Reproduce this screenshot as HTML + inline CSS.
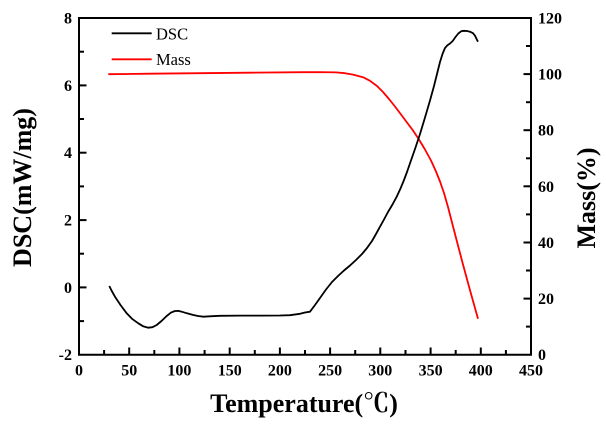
<!DOCTYPE html>
<html>
<head>
<meta charset="utf-8">
<style>
html,body{margin:0;padding:0;background:#fff;}
svg{display:block;}
text{font-family:"Liberation Serif","Noto Serif CJK SC",serif;}
.tl{font-size:16px;font-weight:bold;fill:#000;}
.ti{font-size:26px;font-weight:bold;fill:#000;}
.lg{font-size:16.5px;fill:#000;}
</style>
</head>
<body>
<svg width="606" height="424" viewBox="0 0 606 424" xmlns="http://www.w3.org/2000/svg">
<rect width="606" height="424" fill="#fff"/>
<!-- axes frame -->
<g stroke="#000" stroke-width="2" fill="none">
  <path d="M79,18 L79,354.7 L531,354.7 L531,18 Z"/>
</g>
<!-- x ticks -->
<g stroke="#000" stroke-width="2">
  <line x1="79" y1="354.7" x2="79" y2="347.5"/>
  <line x1="129.2" y1="354.7" x2="129.2" y2="347.5"/>
  <line x1="179.4" y1="354.7" x2="179.4" y2="347.5"/>
  <line x1="229.7" y1="354.7" x2="229.7" y2="347.5"/>
  <line x1="279.9" y1="354.7" x2="279.9" y2="347.5"/>
  <line x1="330.1" y1="354.7" x2="330.1" y2="347.5"/>
  <line x1="380.3" y1="354.7" x2="380.3" y2="347.5"/>
  <line x1="430.6" y1="354.7" x2="430.6" y2="347.5"/>
  <line x1="480.8" y1="354.7" x2="480.8" y2="347.5"/>
  <line x1="104.1" y1="354.7" x2="104.1" y2="350"/>
  <line x1="154.3" y1="354.7" x2="154.3" y2="350"/>
  <line x1="204.6" y1="354.7" x2="204.6" y2="350"/>
  <line x1="254.8" y1="354.7" x2="254.8" y2="350"/>
  <line x1="305" y1="354.7" x2="305" y2="350"/>
  <line x1="355.2" y1="354.7" x2="355.2" y2="350"/>
  <line x1="405.5" y1="354.7" x2="405.5" y2="350"/>
  <line x1="455.7" y1="354.7" x2="455.7" y2="350"/>
  <line x1="505.9" y1="354.7" x2="505.9" y2="350"/>
</g>
<!-- left y ticks -->
<g stroke="#000" stroke-width="2">
  <line x1="79" y1="18" x2="86.5" y2="18"/>
  <line x1="79" y1="85.4" x2="86.5" y2="85.4"/>
  <line x1="79" y1="152.7" x2="86.5" y2="152.7"/>
  <line x1="79" y1="220.1" x2="86.5" y2="220.1"/>
  <line x1="79" y1="287.4" x2="86.5" y2="287.4"/>
  <line x1="79" y1="51.7" x2="84" y2="51.7"/>
  <line x1="79" y1="119" x2="84" y2="119"/>
  <line x1="79" y1="186.4" x2="84" y2="186.4"/>
  <line x1="79" y1="253.7" x2="84" y2="253.7"/>
  <line x1="79" y1="321.1" x2="84" y2="321.1"/>
</g>
<!-- right y ticks -->
<g stroke="#000" stroke-width="2">
  <line x1="531" y1="18" x2="523.5" y2="18"/>
  <line x1="531" y1="74.1" x2="523.5" y2="74.1"/>
  <line x1="531" y1="130.2" x2="523.5" y2="130.2"/>
  <line x1="531" y1="186.3" x2="523.5" y2="186.3"/>
  <line x1="531" y1="242.5" x2="523.5" y2="242.5"/>
  <line x1="531" y1="298.6" x2="523.5" y2="298.6"/>
  <line x1="531" y1="46" x2="526" y2="46"/>
  <line x1="531" y1="102.2" x2="526" y2="102.2"/>
  <line x1="531" y1="158.3" x2="526" y2="158.3"/>
  <line x1="531" y1="214.4" x2="526" y2="214.4"/>
  <line x1="531" y1="270.5" x2="526" y2="270.5"/>
  <line x1="531" y1="326.6" x2="526" y2="326.6"/>
</g>
<!-- x tick labels -->
<g class="tl" text-anchor="middle">
  <text x="79" y="375.5">0</text>
  <text x="129.2" y="375.5">50</text>
  <text x="179.4" y="375.5">100</text>
  <text x="229.7" y="375.5">150</text>
  <text x="279.9" y="375.5">200</text>
  <text x="330.1" y="375.5">250</text>
  <text x="380.3" y="375.5">300</text>
  <text x="430.6" y="375.5">350</text>
  <text x="480.8" y="375.5">400</text>
  <text x="531" y="375.5">450</text>
</g>
<!-- left tick labels -->
<g class="tl" text-anchor="end">
  <text x="72" y="23.5">8</text>
  <text x="72" y="90.9">6</text>
  <text x="72" y="158.2">4</text>
  <text x="72" y="225.6">2</text>
  <text x="72" y="292.9">0</text>
  <text x="72" y="360.2">-2</text>
</g>
<!-- right tick labels -->
<g class="tl" text-anchor="start">
  <text x="538" y="23.5">120</text>
  <text x="538" y="79.6">100</text>
  <text x="538" y="135.7">80</text>
  <text x="538" y="191.8">60</text>
  <text x="538" y="248">40</text>
  <text x="538" y="304.1">20</text>
  <text x="538" y="360.2">0</text>
</g>
<!-- axis titles -->
<text class="ti" x="304" y="412" text-anchor="middle">Temperature(℃)</text>
<text class="ti" transform="translate(31,187.5) rotate(-90)" text-anchor="middle">DSC(mW/mg)</text>
<text class="ti" transform="translate(595,198) rotate(-90)" text-anchor="middle">Mass(%)</text>
<!-- legend -->
<line x1="111.7" y1="33.3" x2="151.7" y2="33.3" stroke="#000" stroke-width="1.8"/>
<text class="lg" x="156" y="39.3">DSC</text>
<line x1="111.7" y1="59.3" x2="151.7" y2="59.3" stroke="#f00" stroke-width="1.8"/>
<text class="lg" x="156" y="65">Mass</text>
<!-- Mass curve -->
<polyline fill="none" stroke="#f00" stroke-width="1.8" stroke-linejoin="round"
 points="108.3,74.2 150,73.7 200,73.2 250,72.7 303,72.2 320,72.1 336,72.4 345,73.2 353,74.6 363,77.2 370,80.8 377,86 383,92 389,99 395,106.5 401,114.5 407,122.5 413,130.5 419,139.5 425,149.5 431,160.5 436,171.5 440,181.5 444,193 448,207 455.5,236 463,264.5 470.5,292 478,318.7"/>
<!-- DSC curve -->
<polyline fill="none" stroke="#000" stroke-width="1.8" stroke-linejoin="round"
 points="109.3,286 111.5,290.5 115,296.7 120.5,305 126.7,313.3 132,318.8 138.3,323.3 143,326.2 148.3,327.7 152.5,327.2 156.7,325 161.5,321 166.7,316 171,312.6 175,311 178.5,310.9 181.7,311.7 187,313.3 193.3,315 198,316 203.3,316.7 212,316.2 220,315.8 240,315.6 260,315.6 280,315.5 290,315.2 300,313.8 305,312.5 310,311.7 315,305 320,298 326,289.5 332,282 338,276 344,270.5 350,265.5 356,260 362,254 367,248 372,241 376,234 380,226.7 384,219.5 388,212 392.5,204.5 396.7,196.7 400.5,188.5 404,180 407,172 410,163.3 415,149 420,134 425,117.5 430,100.5 434,86 437,74 440,62 442.5,54 445,48 447.5,45.2 450,43.5 452.7,41 455.5,37 458.3,33.5 461.3,31.2 464,30.8 467,31 470,31.7 473,33.2 475,35.7 477.3,40.5 478,41.7"/>
</svg>
</body>
</html>
